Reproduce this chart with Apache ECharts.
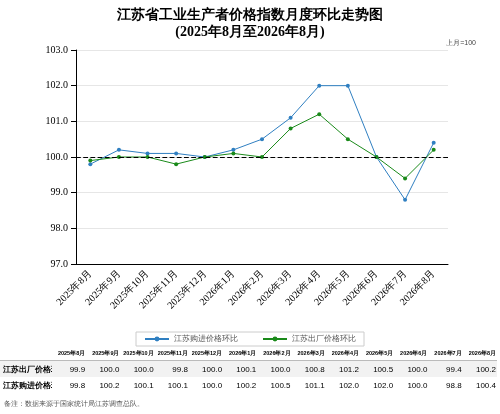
<!DOCTYPE html>
<html><head><meta charset="utf-8">
<script src="https://cdn.jsdelivr.net/npm/echarts@6/dist/echarts.min.js"></script>
<style>
body{margin:0;width:500px;height:414px;background:#fff;overflow:hidden;font-family:"Liberation Sans",sans-serif;}
#c{position:absolute;left:0;top:0;width:500px;height:348px;}
#t{position:absolute;left:0;top:346px;width:497px;border-collapse:collapse;table-layout:fixed;font-size:7px;}
#t td{padding:0 1px 0 0;text-align:right;height:16px;white-space:nowrap;overflow:hidden;}
#t tr.h td{font-weight:bold;font-size:5.5px;height:14px;border-bottom:1px solid #bbb;}
#t tr.r1 td{background:#f2f2f2;font-size:8px;}
#t tr.r2 td{font-size:8px;}
#t td.lab{text-align:left;font-weight:bold;font-size:6px;padding-left:3px;}
#n{position:absolute;left:4px;top:399px;font-size:7px;color:#555;}
</style></head><body>
<div id="c"></div>
<table id="t"><colgroup id="cg"></colgroup></table>
<div id="n">备注：数据来源于国家统计局江苏调查总队。</div>
<script>
const categories=["2025年8月","2025年9月","2025年10月","2025年11月","2025年12月","2026年1月","2026年2月","2026年3月","2026年4月","2026年5月","2026年6月","2026年7月","2026年8月"];
const purchase=[99.8,100.2,100.1,100.1,100.0,100.2,100.5,101.1,102.0,102.0,100.0,98.8,100.4];
const factory=[99.9,100.0,100.0,99.8,100.0,100.1,100.0,100.8,101.2,100.5,100.0,99.4,100.2];
const nameP="江苏购进价格环比", nameF="江苏出厂价格环比";
const ch=echarts.init(document.getElementById('c'));
ch.setOption({
 animation:false,
 title:{text:"江苏省工业生产者价格指数月度环比走势图\n(2025年8月至2026年8月)",left:'center',top:2,
  textStyle:{fontFamily:"Liberation Serif",fontSize:14,fontWeight:'bold',lineHeight:17,color:'#000'}},
 graphic:[{type:'text',right:24,top:40,style:{text:'上月=100',fontSize:7,fill:'#444'}}],
 legend:{bottom:2,left:'center',itemWidth:24,itemHeight:6,borderColor:'#ccc',borderWidth:1,padding:[3,8],itemGap:24,
  textStyle:{fontSize:8,color:'#555'},data:[nameP,nameF]},
 grid:{left:76,right:52,top:50,bottom:84},
 xAxis:{type:'category',data:categories,axisTick:{show:false},axisLine:{lineStyle:{color:'#000'}},
  axisLabel:{rotate:45,fontFamily:"Liberation Serif",fontSize:10,color:'#000',interval:0}},
 yAxis:{type:'value',min:97,max:103,interval:1,axisLine:{show:true,lineStyle:{color:'#000'}},axisTick:{show:true},
  axisLabel:{formatter:v=>v.toFixed(1),fontFamily:"Liberation Serif",fontSize:10,color:'#000'},
  splitLine:{lineStyle:{color:'#e6e6e6'}}},
 series:[
  {name:nameP,type:'line',data:purchase,color:'#2f7fc1',symbol:'circle',symbolSize:4,lineStyle:{width:1},
   markLine:{silent:true,symbol:'none',label:{show:false},lineStyle:{color:'#000',type:'dashed',width:1.2},data:[{yAxis:100}]}},
  {name:nameF,type:'line',data:factory,color:'#1a8a1a',symbol:'circle',symbolSize:4,lineStyle:{width:1}}
 ]
});
document.getElementById('cg').innerHTML='<col style="width:52px">'+categories.map(()=>'<col>').join('');
const t=document.getElementById('t');
let h='<tr class="h"><td class="lab"></td>'+categories.map(c=>'<td>'+c+'</td>').join('')+'</tr>';
h+='<tr class="r1"><td class="lab">'+nameF+'</td>'+factory.map(v=>'<td>'+v.toFixed(1)+'</td>').join('')+'</tr>';
h+='<tr class="r2"><td class="lab">'+nameP+'</td>'+purchase.map(v=>'<td>'+v.toFixed(1)+'</td>').join('')+'</tr>';
t.insertAdjacentHTML('beforeend',h);
</script></body></html>
